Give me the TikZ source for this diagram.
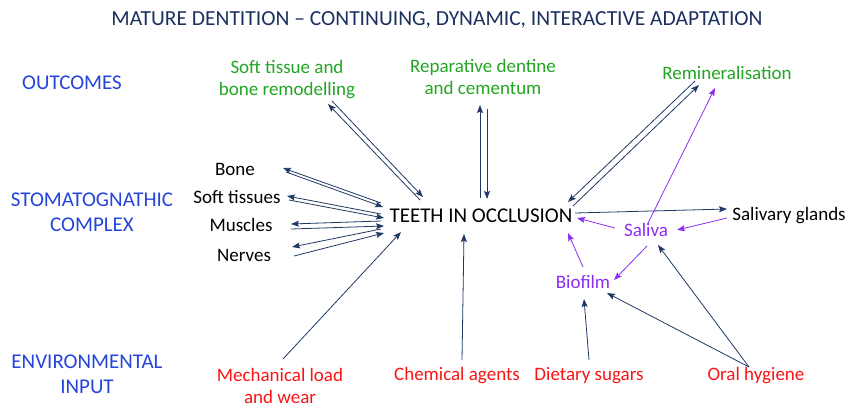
\documentclass[tikz,border=0pt]{standalone}
\usepackage{fontspec}
\setmainfont{Carlito}
\usetikzlibrary{arrows.meta}
\definecolor{navy}{RGB}{31,56,100}
\definecolor{titleblue}{RGB}{28,48,96}
\definecolor{secblue}{RGB}{36,68,220}
\definecolor{okgreen}{RGB}{34,165,34}
\definecolor{hotred}{RGB}{250,20,20}
\definecolor{violet2}{RGB}{140,45,245}
\tikzset{
  lbl/.style={inner sep=0pt, align=center, font=\fontsize{19}{22}\selectfont},
  sec/.style={lbl, text=secblue, font=\fontsize{21}{25}\selectfont},
  outc/.style={lbl, text=okgreen},
  envi/.style={lbl, text=hotred},
  purp/.style={lbl, text=violet2},
  conn/.style={draw=navy, line width=0.8pt, -{Stealth[length=8pt,width=6pt,inset=1.5pt]}},
  pconn/.style={draw=violet2, line width=0.8pt, -{Stealth[length=8pt,width=6pt,inset=1.5pt]}},
}
\begin{document}
\begin{tikzpicture}[x=1pt,y=-1pt]
\useasboundingbox (0,0) rectangle (845,405);
% title
\node[inner sep=0pt, text=titleblue, font=\fontsize{21.5}{25}\selectfont] (title) at (437,20) {MATURE DENTITION -- CONTINUING, DYNAMIC, INTERACTIVE ADAPTATION};
% section labels
\node[sec] (outcomes) at (72,83) {OUTCOMES};
\node[sec] (stomato) at (92,212) {STOMATOGNATHIC\\COMPLEX};
\node[sec] (envin) at (87,374) {ENVIRONMENTAL\\INPUT};
% outcomes
\node[outc] (softrem) at (287,80) {Soft tissue and\\bone remodelling};
\node[outc] (repar) at (483,77) {Reparative dentine\\and cementum};
\node[outc] (remin) at (727,73) {Remineralisation};
% stomatognathic
\node[lbl] (bone) at (235,169) {Bone};
\node[lbl] (softt) at (237,197) {Soft tissues};
\node[lbl] (muscles) at (241,225) {Muscles};
\node[lbl] (nerves) at (244,255) {Nerves};
\node[lbl, font=\fontsize{21}{24}\selectfont] (teeth) at (481,216) {TEETH IN OCCLUSION};
\node[lbl] (glands) at (789,216) {Salivary glands};
\node[purp] (saliva) at (646,230) {Saliva};
\node[purp] (biofilm) at (583,282) {Biofilm};
% environmental
\node[envi] (mech) at (280,386) {Mechanical load\\and wear};
\node[envi] (chem) at (457,376) {Chemical agents};
\node[envi] (diet) at (589,376) {Dietary sugars};
\node[envi] (oral) at (756,376) {Oral hygiene};

% connector end points
\coordinate (sr1a) at (420,200); \coordinate (sr1b) at (328,104);
\coordinate (sr2a) at (332,101); \coordinate (sr2b) at (423,197);
\coordinate (rp1a) at (480,198); \coordinate (rp1b) at (480,105);
\coordinate (rp2a) at (487,109); \coordinate (rp2b) at (487,199);
\coordinate (rm1a) at (695,81);  \coordinate (rm1b) at (568,202);
\coordinate (rm2a) at (573,206); \coordinate (rm2b) at (699,85);
\coordinate (bo1a) at (381,203); \coordinate (bo1b) at (283,168);
\coordinate (bo2a) at (286,172); \coordinate (bo2b) at (383,207);
\coordinate (st1a) at (381,214); \coordinate (st1b) at (287,196);
\coordinate (st2a) at (289,200); \coordinate (st2b) at (384,218);
\coordinate (mu1a) at (381,221); \coordinate (mu1b) at (291,224);
\coordinate (mu2a) at (291,229); \coordinate (mu2b) at (384,226);
\coordinate (ne1a) at (381,229); \coordinate (ne1b) at (292,247);
\coordinate (ne2a) at (294,256); \coordinate (ne2b) at (384,233);

% outcomes double arrows
\draw[conn] (sr1a) -- (sr1b);
\draw[conn] (sr2a) -- (sr2b);
\draw[conn] (rp1a) -- (rp1b);
\draw[conn] (rp2a) -- (rp2b);
\draw[conn] (rm1a) -- (rm1b);
\draw[conn] (rm2a) -- (rm2b);
% stomatognathic pairs
\draw[conn] (bo1a) -- (bo1b);
\draw[conn] (bo2a) -- (bo2b);
\draw[conn] (st1a) -- (st1b);
\draw[conn] (st2a) -- (st2b);
\draw[conn] (mu1a) -- (mu1b);
\draw[conn] (mu2a) -- (mu2b);
\draw[conn] (ne1a) -- (ne1b);
\draw[conn] (ne2a) -- (ne2b);
% teeth to salivary glands
\coordinate (tg1) at (575,213); \coordinate (tg2) at (727,209);
\draw[conn] (tg1) -- (tg2);
% environmental inputs
\coordinate (me1) at (283,359); \coordinate (me2) at (401,232);
\draw[conn] (me1) -- (me2);
\coordinate (ch1) at (462,360); \coordinate (ch2) at (464,234);
\draw[conn] (ch1) -- (ch2);
\coordinate (di1) at (589,360); \coordinate (di2) at (584,299);
\draw[conn] (di1) -- (di2);
\coordinate (or0) at (749,367);
\coordinate (or1) at (607,293); \coordinate (or2) at (658,245);
\draw[conn] (or0) -- (or1);
\draw[conn] (or0) -- (or2);
% purple arrows
\coordinate (gs1) at (727,218); \coordinate (gs2) at (677,230);
\draw[pconn] (gs1) -- (gs2);
\coordinate (sa1) at (615,228); \coordinate (sa2) at (577,218);
\draw[pconn] (sa1) -- (sa2);
\coordinate (bf1) at (583,267); \coordinate (bf2) at (568,233);
\draw[pconn] (bf1) -- (bf2);
\coordinate (sb1) at (647,246); \coordinate (sb2) at (614,280);
\draw[pconn] (sb1) -- (sb2);
\coordinate (sr1) at (648,223); \coordinate (sr2) at (715,88);
\draw[pconn] (sr1) -- (sr2);
\end{tikzpicture}
\end{document}
